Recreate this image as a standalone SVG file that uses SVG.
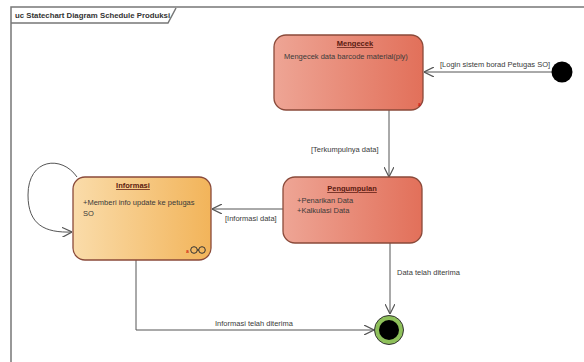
<svg xmlns="http://www.w3.org/2000/svg" width="584" height="362" viewBox="0 0 584 362">
  <defs>
    <linearGradient id="redFill" x1="0" y1="0" x2="1" y2="0">
      <stop offset="0" stop-color="#eea595"/>
      <stop offset="1" stop-color="#e2705a"/>
    </linearGradient>
    <linearGradient id="orangeFill" x1="0" y1="0" x2="1" y2="0">
      <stop offset="0" stop-color="#fadcaa"/>
      <stop offset="1" stop-color="#f2b45a"/>
    </linearGradient>
    <marker id="open" viewBox="0 0 10 10" refX="10" refY="5" markerWidth="10" markerHeight="10" markerUnits="userSpaceOnUse" orient="auto">
      <path d="M0,0 L10,5 L0,10" fill="none" stroke="#555" stroke-width="1.2"/>
    </marker>
  </defs>
  <style>
    text { font-family: "Liberation Sans", Arial, sans-serif; font-size: 7.5px; fill: #3a3a3a; }
    .title { font-weight: bold; text-decoration: underline; text-anchor: middle; fill: #5a1a10; }
    .frame { fill: none; stroke: #777; stroke-width: 1.5; }
    .state { stroke: #8a4a3a; stroke-width: 1.3; }
    .edge { fill: none; stroke: #555; stroke-width: 1; }
  </style>

  <rect width="584" height="362" fill="#fff"/>

  <!-- diagram frame and name tab -->
  <g id="frame">
    <path class="frame" d="M11,362 V7 H584"/>
    <path class="frame" d="M11,23 H168 L176,8"/>
    <text x="15" y="18" style="font-weight:bold;font-size:7.8px;fill:#333">uc Statechart Diagram Schedule Produksi</text>
  </g>

  <!-- transitions -->
  <g id="connectors">
    <line class="edge" x1="552" y1="72" x2="424" y2="72" marker-end="url(#open)"/>
    <text x="440" y="67">[Login sistem borad Petugas SO]</text>

    <line class="edge" x1="389" y1="110" x2="389" y2="177" marker-end="url(#open)"/>
    <text x="311" y="152">[Terkumpulnya data]</text>

    <line class="edge" x1="283" y1="209" x2="212" y2="209" marker-end="url(#open)"/>
    <text x="225" y="221">[Informasi data]</text>

    <path class="edge" d="M77,177 C62,155 28,158 28,195 C28,225 45,233 72,232" marker-end="url(#open)"/>

    <line class="edge" x1="390" y1="243" x2="390" y2="314" marker-end="url(#open)"/>
    <text x="397" y="275">Data telah diterima</text>

    <path class="edge" d="M136,260 V330 H374" marker-end="url(#open)"/>
    <text x="215" y="326">Informasi telah diterima</text>
  </g>

  <!-- initial pseudo-state -->
  <g id="initial">
    <circle cx="562" cy="72" r="10.5" fill="#000"/>
  </g>

  <!-- state: Mengecek -->
  <g id="mengecek">
    <rect class="state" x="274" y="35" width="149" height="75" rx="12" fill="url(#redFill)"/>
    <text class="title" x="355" y="46">Mengecek</text>
    <text x="284" y="59">Mengecek data barcode material(ply)</text>
    <text x="418" y="106" style="font-size:5px;fill:#c00">a</text>
  </g>

  <!-- state: Pengumpulan -->
  <g id="pengumpulan">
    <rect class="state" x="283" y="177" width="139" height="66" rx="12" fill="url(#redFill)"/>
    <text class="title" x="352" y="191">Pengumpulan</text>
    <text x="297" y="203">+Penarikan Data</text>
    <text x="297" y="213">+Kalkulasi Data</text>
  </g>

  <!-- state: Informasi -->
  <g id="informasi">
    <rect class="state" x="73" y="177" width="138" height="83" rx="12" fill="url(#orangeFill)" stroke="#8a6a3a"/>
    <text class="title" x="133" y="188">Informasi</text>
    <text x="83" y="205">+Memberi info update ke petugas</text>
    <text x="83" y="216">SO</text>
    <text x="186" y="253" style="font-size:5px;fill:#c00">a</text>
    <circle cx="194" cy="250" r="3.3" fill="none" stroke="#333" stroke-width="1"/>
    <circle cx="202" cy="250" r="3.3" fill="none" stroke="#333" stroke-width="1"/>
    <line x1="197" y1="250" x2="199" y2="250" stroke="#333" stroke-width="1"/>
  </g>

  <!-- final state -->
  <g id="final">
    <circle cx="389" cy="330" r="14.5" fill="#8ec05a" stroke="#333" stroke-width="1"/>
    <circle cx="389" cy="330" r="10" fill="#000"/>
  </g>
</svg>
